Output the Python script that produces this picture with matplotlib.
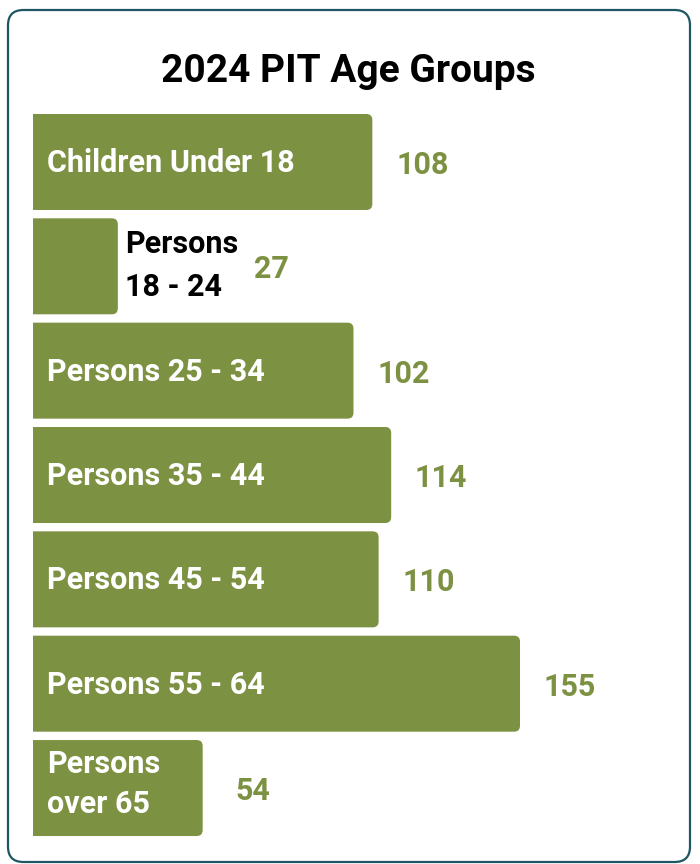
import matplotlib
matplotlib.use("Agg")
import matplotlib.pyplot as plt
from matplotlib.patches import FancyBboxPatch

plt.rcParams['font.family'] = ['Roboto', 'DejaVu Sans']

# data
groups = ["Children Under 18", "Persons\n18 - 24", "Persons 25 - 34", "Persons 35 - 44",
          "Persons 45 - 54", "Persons 55 - 64", "Persons\nover 65"]
counts = [108, 27, 102, 114, 110, 155, 54]
label_outside = [False, True, False, False, False, False, False]

GREEN = "#7d9143"
BORDER = "#1d5764"

W, H = 700, 864
fig = plt.figure(figsize=(W / 100, H / 100), dpi=100)

# rounded frame around the card
frame = FancyBboxPatch((8 / W, 2 / H), 682 / W, 852 / H,
                       boxstyle="round,pad=0,rounding_size=0.022",
                       transform=fig.transFigure, facecolor="none",
                       edgecolor=BORDER, linewidth=1.6, mutation_aspect=W / H)
fig.patches.append(frame)

fig.text(348 / W, 1 - 72 / H, "2024 PIT Age Groups", ha="center", va="center",
         fontsize=28, fontweight="bold", color="black")

# axes: x=0 at px 33, 3.142 px per unit
ax_left = 33 / W
ax_w = 200 * 3.142 / W
ax = fig.add_axes([ax_left, (H - 840.2) / H, ax_w, 730.4 / H])
ax.set_xlim(0, 200)
ax.set_ylim(len(groups) - 0.5, -0.5)
ax.axis("off")

ypos = list(range(len(groups)))
bars = ax.barh(ypos, counts, height=0.92, color=GREEN)

px_x = 200 / (ax_w * W)          # data units per px in x
px_y = 7 / (730.4)               # data units per px in y
r = 6 * px_x
for b in bars:
    x, y = b.get_x(), b.get_y()
    w, h = b.get_width(), b.get_height()
    b.set_visible(False)
    p = FancyBboxPatch((x - 5, y), w + 5, h,
                       boxstyle=f"round,pad=0,rounding_size={r}",
                       mutation_aspect=(6 * px_y) / r,
                       facecolor=GREEN, edgecolor="none")
    ax.add_patch(p)

FS = 22
for i, (g, c, out) in enumerate(zip(groups, counts, label_outside)):
    if out:
        ax.text(c + 7 * px_x, i - 1 * px_y, g, ha="left", va="center", fontsize=FS,
                fontweight="bold", color="black", linespacing=1.52)
        vx = c + 154 * px_x
    else:
        multi = "\n" in g
        ax.text(14 * px_x, i + (-4 * px_y if multi else 1 * px_y), g, ha="left", va="center",
                fontsize=FS, fontweight="bold", color="white",
                linespacing=1.40)
        vx = c + 50 * px_x
    ax.text(vx, i + 3 * px_y, str(c), ha="center", va="center", fontsize=FS,
            fontweight="bold", color=GREEN)

fig.savefig("out.png", dpi=100)
